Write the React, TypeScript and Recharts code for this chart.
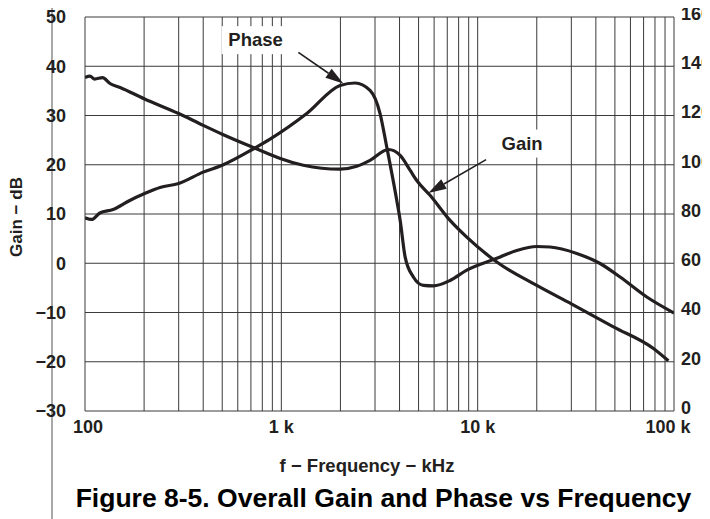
import React from 'react';
import { LineChart, Line, XAxis, YAxis, CartesianGrid, ReferenceLine } from 'recharts';

const FONT = '"Liberation Sans", Arial, Helvetica, sans-serif';
const INK = '#231f20';

// Frequency axis
const xTicks = [
  100, 200, 300, 400, 500, 600, 700, 800, 900,
  1000, 2000, 3000, 4000, 5000, 6000, 7000, 8000, 9000,
  10000, 20000, 30000, 40000, 50000, 60000, 70000, 80000, 90000,
  100000,
];
const majorTicks = [100, 1000, 10000, 100000];
const majorLabels = ['100', '1 k', '10 k', '100 k'];

const gainTicks = [-30, -20, -10, 0, 10, 20, 30, 40, 50];
const phaseTicks = [0, 20, 40, 60, 80, 100, 120, 140, 160];

// Gain (dB)
const gainFreq = [100, 106, 112, 123, 134, 151, 200, 300, 400, 500, 720, 876, 980, 1294, 1991, 2422, 2830, 3509, 4030, 4524, 4895, 5720, 7235, 8800, 12513, 20000, 30160, 49130, 78560, 93650];
const gainDb = [37.7, 38.0, 37.4, 37.7, 36.5, 35.7, 33.4, 30.4, 28.0, 26.2, 23.5, 22.1, 21.3, 19.9, 19.1, 19.7, 20.9, 23.1, 21.9, 18.9, 16.8, 13.8, 8.7, 5.3, 0.25, -4.5, -8.3, -12.9, -17.3, -19.8];

// Phase (degrees)
const phaseFreq = [100, 108, 119, 139, 170, 200, 241, 300, 400, 500, 726, 876, 1347, 1991, 2374, 2830, 3183, 3443, 3871, 4030, 4270, 4704, 5289, 5947, 7235, 8800, 12513, 15820, 20000, 23380, 31970, 42020, 53140, 72690, 100000];
const phaseDeg = [78.5, 77.8, 80.4, 81.8, 85.6, 88.2, 90.8, 92.4, 97, 99.8, 106.6, 110.4, 120.8, 132.2, 133.2, 130.2, 120.8, 107.2, 85.6, 77.4, 62.6, 54.4, 51, 50.8, 53, 57.2, 62, 65.2, 66.8, 66.6, 64, 59.9, 54.4, 46.3, 39.8];

const tickStyle = { fill: INK, fontSize: 18, fontWeight: 700, fontFamily: FONT };

const fmtGain = (v: number) => (v < 0 ? '\u2212' + Math.abs(v) : String(v));

const XTick = (props: any) => {
  const { x, y, payload } = props;
  const i = majorTicks.indexOf(payload.value);
  if (i < 0) return <g />;
  const dx = i === 0 ? 3 : i === majorTicks.length - 1 ? -6 : 0;
  return (
    <text x={x + dx} y={y} dy="0.71em" textAnchor="middle" {...tickStyle}>
      {majorLabels[i]}
    </text>
  );
};

const RightTick = (props: any) => {
  const { x, y, payload } = props;
  return (
    <text x={x} y={y - 3.5} dy="0.355em" textAnchor="start" {...tickStyle}>
      {String(payload.value)}
    </text>
  );
};

const makeArrow = (text: string, dx: number, dy: number, boxW: number) => (p: any) => {
  const { x1, y1, x2, y2 } = p;
  if (![x1, y1, x2, y2].every((v: any) => Number.isFinite(v))) return <g />;
  const len = Math.hypot(x2 - x1, y2 - y1);
  const ux = (x2 - x1) / len;
  const uy = (y2 - y1) / len;
  const hl = 18;
  const hw = 5.5;
  const bx = x2 - ux * hl;
  const by = y2 - uy * hl;
  const nx = -uy;
  const ny = ux;
  const cx = x1 + dx;
  const base = y1 + dy;
  return (
    <g>
      <rect x={cx - boxW / 2} y={base - 20} width={boxW} height={28} fill="#fff" />
      <text x={cx} y={base} textAnchor="middle" fill={INK} fontSize={18.5} fontWeight={700} fontFamily={FONT}>
        {text}
      </text>
      <line x1={x1} y1={y1} x2={bx} y2={by} stroke={INK} strokeWidth={1.6} />
      <polygon
        points={`${x2},${y2} ${bx + nx * hw},${by + ny * hw} ${bx - nx * hw},${by - ny * hw}`}
        fill={INK}
      />
    </g>
  );
};

export default function App() {
  const gainData = gainFreq.map((f, i) => ({ f, v: gainDb[i] }));
  const phaseData = phaseFreq.map((f, i) => ({ f, v: phaseDeg[i] }));

  return (
    <div style={{ position: 'relative', width: 702, height: 511, fontFamily: FONT }}>
      <svg
        width={710}
        height={519}
        style={{ position: 'absolute', left: -8, top: -8, pointerEvents: 'none' }}
      >
        <line x1={52} y1={0} x2={52} y2={519} stroke="#7a7a7a" strokeWidth={1.3} />
      </svg>
      <LineChart
        width={702}
        height={511}
        margin={{ top: 9, right: 0, bottom: 78, left: 0 }}
      >
        <CartesianGrid yAxisId="left" stroke="#3a3a3a" strokeWidth={1} />
        <XAxis
          dataKey="f"
          type="number"
          scale="log"
          domain={[100, 100000]}
          allowDataOverflow
          ticks={xTicks}
          interval={0}
          tick={<XTick />}
          tickSize={0}
          tickMargin={9}
          axisLine={false}
          tickLine={false}
          height={30}
          label={{
            content: (lp: any) => {
              const vb = lp.viewBox || { x: 77, y: 403, width: 589 };
              const cx = vb.x + vb.width / 2 - 12.5;
              return (
                <text x={cx} y={vb.y + 61} textAnchor="middle" fill={INK} fontSize={18.5} fontWeight={700} fontFamily={FONT}>
                  f − Frequency − kHz
                </text>
              );
            },
          }}
        />
        <YAxis
          yAxisId="left"
          type="number"
          domain={[-30, 50]}
          ticks={gainTicks}
          interval={0}
          tickFormatter={fmtGain}
          tick={tickStyle}
          tickSize={0}
          tickMargin={19}
          axisLine={false}
          tickLine={false}
          width={77}
          label={{
            content: (lp: any) => {
              const vb = lp.viewBox || { x: 0, y: 9, width: 77, height: 394 };
              const cx = vb.x + 8;
              const cy = vb.y + vb.height / 2 + 3;
              return (
                <text
                  x={cx}
                  y={cy}
                  transform={`rotate(-90 ${cx} ${cy})`}
                  textAnchor="middle"
                  dominantBaseline="central"
                  fill={INK}
                  fontSize={17}
                  fontWeight={700}
                  fontFamily={FONT}
                >
                  Gain − dB
                </text>
              );
            },
          }}
        />
        <YAxis
          yAxisId="right"
          orientation="right"
          type="number"
          domain={[0, 160]}
          ticks={phaseTicks}
          interval={0}
          tick={<RightTick />}
          tickSize={0}
          tickMargin={7}
          axisLine={false}
          tickLine={false}
          width={36}
        />
        <Line
          yAxisId="left"
          data={gainData}
          dataKey="v"
          type="monotone"
          stroke={INK}
          strokeWidth={3.2}
          dot={false}
          isAnimationActive={false}
        />
        <Line
          yAxisId="right"
          data={phaseData}
          dataKey="v"
          type="monotone"
          stroke={INK}
          strokeWidth={3.2}
          dot={false}
          isAnimationActive={false}
        />
        <ReferenceLine
          yAxisId="left"
          segment={[{ x: 1221, y: 42.8 }, { x: 2069, y: 36.5 }]}
          shape={makeArrow('Phase', -42.8, -6.3, 68)}
        />
        <ReferenceLine
          yAxisId="left"
          segment={[{ x: 11040, y: 21.05 }, { x: 5610, y: 14.26 }]}
          shape={makeArrow('Gain', 36, -10, 52)}
        />
      </LineChart>
      <svg
        width={710}
        height={519}
        style={{ position: 'absolute', left: -8, top: -8, pointerEvents: 'none' }}
      >
        <text x={383.5} y={507} textAnchor="middle" fill="#000" fontSize={26.5} fontWeight={700} fontFamily={FONT}>
          Figure 8-5. Overall Gain and Phase vs Frequency
        </text>
      </svg>
    </div>
  );
}
